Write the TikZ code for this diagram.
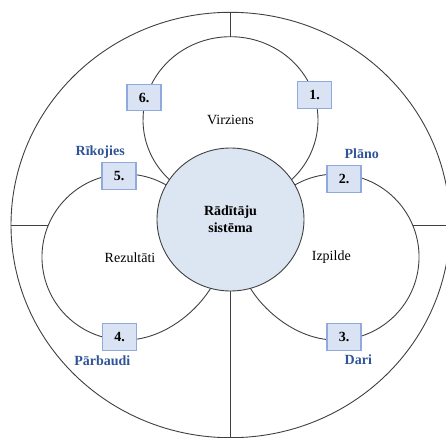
\documentclass[tikz,border=0pt]{standalone}
\usepackage{fontspec}
\setmainfont{Liberation Serif}
\usetikzlibrary{shapes.geometric}

\definecolor{corefill}{HTML}{DCE6F2}
\definecolor{boxfill}{HTML}{DAE3F3}
\definecolor{boxline}{HTML}{8FAADC}
\definecolor{phaseblue}{HTML}{2F5597}
\definecolor{inkline}{HTML}{404040}

\tikzset{
  ring/.style={draw=inkline, line width=0.9pt},
  numbox/.style={draw=boxline, fill=boxfill, line width=1.2pt,
    minimum width=34pt, minimum height=26.5pt, inner sep=0pt,
    font=\fontsize{14}{16}\selectfont\bfseries},
  phase/.style={text=phaseblue, inner sep=0pt,
    font=\fontsize{14}{16}\selectfont\bfseries},
  area/.style={inner sep=0pt, font=\fontsize{14}{16}\selectfont},
}

\begin{document}
\begin{tikzpicture}[x=1pt, y=1pt]
  \useasboundingbox (0,0) rectangle (446,437);
  \clip (0,0) rectangle (446,437);

  % outer ring
  \node[ring, ellipse, minimum width=439pt, minimum height=425.4pt,
        inner sep=0pt] (outer) at (230.5,212) {};

  % three lobes round the core
  \coordinate (vtop) at (230.5,400.3);
  \coordinate (rmid) at (412.6,212);
  \coordinate (lmid) at (48.4,212);

  % top lobe
  \draw[ring] ([shift={(-47:87.5 and 83.3)}]230.5,317)
    arc[start angle=-47, end angle=227, x radius=87.5, y radius=83.3];
  % right lobe
  \draw[ring] (249,151) .. controls (263,126.8) and (293.9,100.35) .. (328.8,97.3)
    arc[start angle=-95, end angle=122, radius=83];
  % left lobe
  \draw[ring] (212,151) .. controls (198,126.8) and (167.1,100.35) .. (132.2,97.3)
    arc[start angle=275, end angle=58, radius=83];

  % core
  \node[ring, ellipse, fill=corefill, minimum width=147pt, minimum height=143pt,
        inner sep=0pt, align=center,
        font=\fontsize{14}{16.7}\selectfont\bfseries] (core) at (230.5,217.5)
        {Rādītāju\\sistēma};

  % dividing strokes
  \draw[ring] (outer.north) -- (vtop);
  \draw[ring] (outer.west) -- (lmid);
  \draw[ring] (rmid) -- (outer.east);
  \draw[ring] (core.south) -- (outer.south);

  % numbered steps
  \node[numbox] (s1) at (314.5,342) {1.};
  \node[numbox] (s2) at (344,258) {2.};
  \node[numbox] (s3) at (344,100) {3.};
  \node[numbox] (s4) at (119.5,100) {4.};
  \node[numbox] (s5) at (119,261) {5.};
  \node[numbox] (s6) at (144,339.5) {6.};

  % phase names
  \node[phase] (plan) at (361.7,283.5) {Plāno};
  \node[phase] (do) at (358.3,77) {Dari};
  \node[phase] (check) at (102.3,76) {Pārbaudi};
  \node[phase] (act) at (100.2,284.5) {Rīkojies};

  % area names
  \node[area] (dir) at (230.5,317.5) {Virziens};
  \node[area] (res) at (130,179.5) {Rezultāti};
  \node[area] (exe) at (331.3,179.5) {Izpilde};
\end{tikzpicture}
\end{document}
